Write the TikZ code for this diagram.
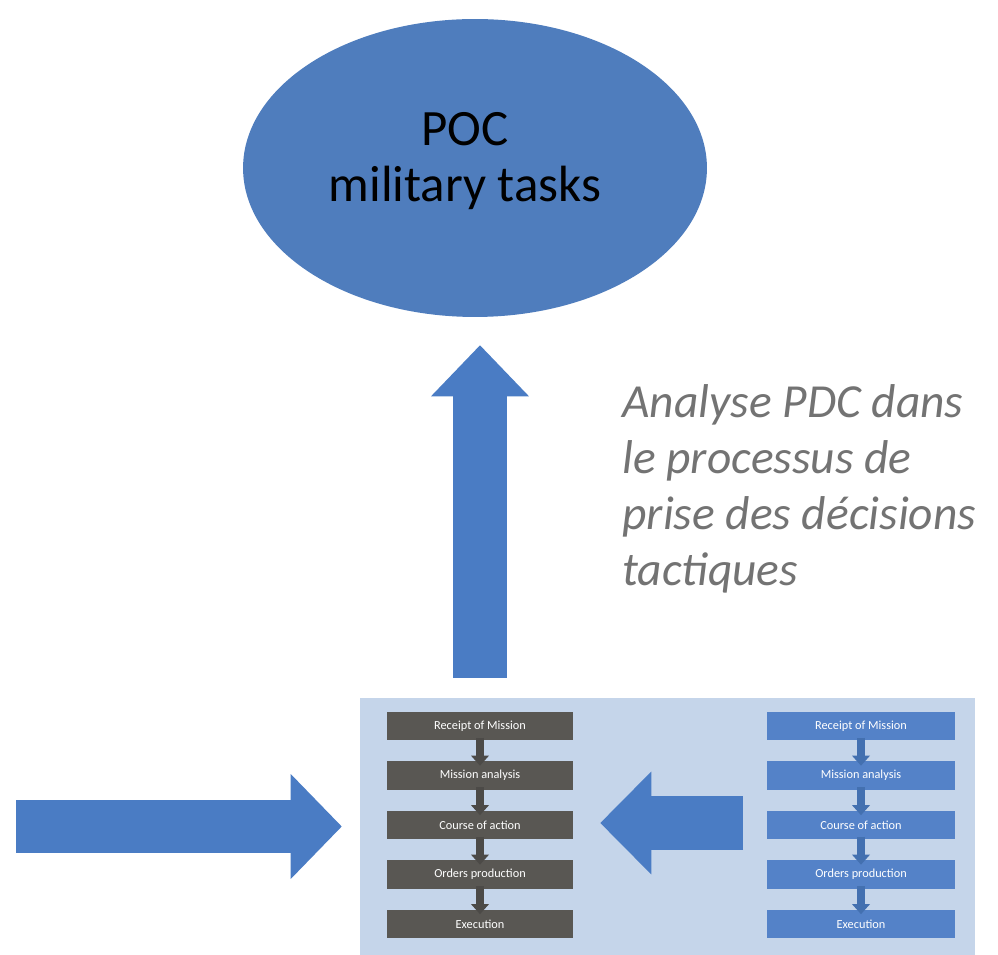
\documentclass[tikz,border=0pt]{standalone}
\usepackage{fontspec}
\setmainfont{Carlito}
\usetikzlibrary{shapes}
\usetikzlibrary{positioning}
\usetikzlibrary{arrows.meta}
\definecolor{pocblue}{HTML}{4F7DBD}
\definecolor{arrowblue}{HTML}{4A7CC4}
\definecolor{panelblue}{HTML}{C5D5EA}
\definecolor{stepgrey}{HTML}{595753}
\definecolor{stepblue}{HTML}{5482C8}
\definecolor{textgrey}{HTML}{737373}
\tikzset{
    pocnode/.style = {ellipse, fill=pocblue, inner sep=0pt, minimum width=9.28cm, minimum height=5.96cm},
    poclabel/.style = {align=center, inner sep=0pt, xshift=-0.2cm, yshift=0.14cm, font=\fontsize{29}{32}\selectfont},
    panelbox/.style = {rectangle, fill=panelblue, inner sep=0pt, minimum width=12.3cm, minimum height=5.14cm},
    stepg/.style = {rectangle, fill=stepgrey, text=white, inner sep=0pt, minimum width=3.72cm, minimum height=0.58cm, font=\fontsize{7}{8}\selectfont},
    stepb/.style = {stepg, fill=stepblue, minimum width=3.76cm},
    notetext/.style = {align=left, inner sep=0pt, text=textgrey, font=\itshape\fontsize{27}{32}\selectfont},
    bigarrow/.style = {-{Triangle[width=#1, length=1.02cm, line width=0pt]}, line width=1.07cm, draw=arrowblue},
    smallg/.style = {-{Triangle[width=0.36cm, length=0.2cm, line width=0pt]}, line width=0.16cm, draw=stepgrey!85!black, shorten >=-0.1cm, shorten <=-0.06cm}, % grey column
    smallb/.style = {smallg, draw=arrowblue!90!black} % blue column
}

\begin{document}
\begin{tikzpicture}[x=0.02cm, y=-0.02cm]
\useasboundingbox (0,0) rectangle (998,955);
%
\node[pocnode, label={[poclabel]center:POC\\military tasks}] at (475, 168) (poc) {};
\node[panelbox] at (667.5, 826.5) (panel) {};
\node[notetext, anchor=north west] at (622, 384) (note) {Analyse PDC dans\\le processus de\\prise des décisions\\tactiques};
%
\node[stepg] at (480, 726) (gl1) {Receipt of Mission};
\node[stepg] at (480, 775.5) (gl2) {Mission analysis};
\node[stepg] at (480, 825) (gl3) {Course of action};
\node[stepg] at (480, 874.5) (gl4) {Orders production};
\node[stepg] at (480, 924) (gl5) {Execution};
%
\node[stepb] at (861, 726) (br1) {Receipt of Mission};
\node[stepb] at (861, 775.5) (br2) {Mission analysis};
\node[stepb] at (861, 825) (br3) {Course of action};
\node[stepb] at (861, 874.5) (br4) {Orders production};
\node[stepb] at (861, 924) (br5) {Execution};
%
\coordinate (lin) at (16, 826.5);
\coordinate (rin) at (743, 823);
%
\draw[smallg] (gl1) -- (gl2);
\draw[smallg] (gl2) -- (gl3);
\draw[smallg] (gl3) -- (gl4);
\draw[smallg] (gl4) -- (gl5);
\draw[smallb] (br1) -- (br2);
\draw[smallb] (br2) -- (br3);
\draw[smallb] (br3) -- (br4);
\draw[smallb] (br4) -- (br5);
%
\draw[bigarrow=1.96cm, shorten <=0.4cm, shorten >=0.56cm] (panel.north -| gl1) -- (poc.south -| gl1);
\draw[bigarrow=2.1cm, shorten >=0.36cm] (lin) -- (panel.west);
\draw[bigarrow=2.06cm, shorten >=0.54cm] (rin) -- (rin -| gl3.east);

\end{tikzpicture}
\end{document}
